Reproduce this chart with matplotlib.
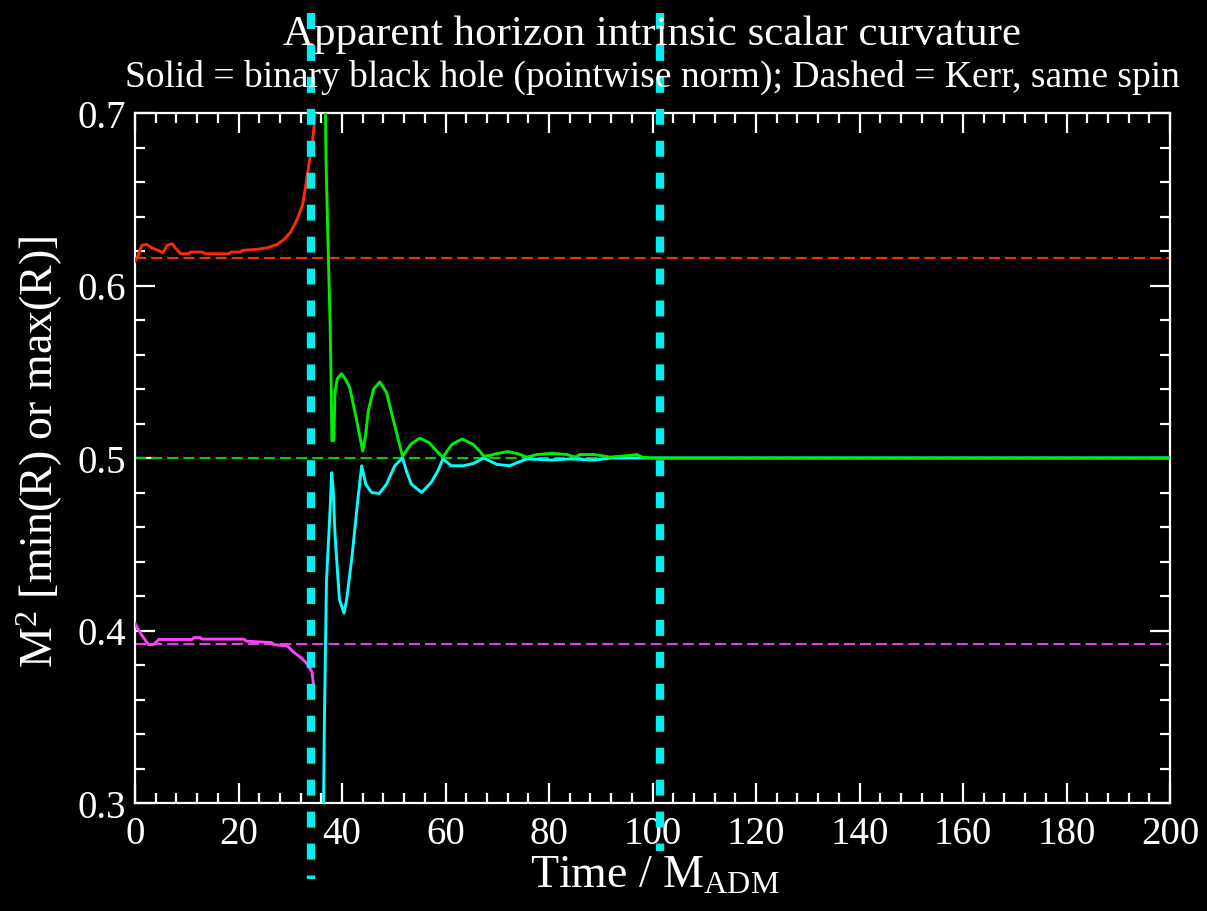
#!/usr/bin/env python3
"""Apparent horizon intrinsic scalar curvature: binary black hole vs Kerr."""

import matplotlib
matplotlib.use("Agg")
import matplotlib.pyplot as plt
from matplotlib.ticker import MultipleLocator

# individual horizon 1 (max R), red
red_t = [0.0, 0.6, 1.3, 2.3, 3.2, 4.5, 5.4, 6.2, 7.2, 7.8, 8.8, 10.4, 10.7,
         13.0, 13.6, 18.2, 18.5, 20.4, 20.7, 23.6, 25.6, 27.5, 28.8, 30.1,
         31.4, 32.4, 33.0, 33.7, 34.3, 34.6, 34.8]
red_v = [0.6141, 0.6174, 0.6233, 0.6238, 0.6219, 0.6203, 0.6190, 0.6233,
         0.6242, 0.6217, 0.6184, 0.6184, 0.6194, 0.6194, 0.6184, 0.6184,
         0.6194, 0.6194, 0.6203, 0.6210, 0.6219, 0.6238, 0.6267, 0.6310,
         0.6388, 0.6469, 0.6581, 0.6717, 0.6833, 0.6920, 0.7008]

# individual horizon (min R), magenta
mag_t = [0.0, 0.35, 1.3, 2.6, 3.6, 4.6, 11.0, 11.4, 12.6, 12.9, 21.0, 21.6,
         26.4, 26.8, 29.4, 30.6, 32.3, 33.2, 34.2, 34.5]
mag_v = [0.4041, 0.4021, 0.3973, 0.3918, 0.3918, 0.3948, 0.3948, 0.3959,
         0.3959, 0.3950, 0.3950, 0.3938, 0.3930, 0.3918, 0.3911, 0.3876,
         0.3837, 0.3808, 0.3759, 0.3685]

# common horizon max R, green
green_t = [36.6, 36.9, 37.3, 37.7, 37.9, 38.05, 38.4, 38.65, 39.1, 39.9, 40.6,
           41.5, 42.8, 44.0, 44.5, 45.1, 46.1, 47.3, 48.6, 49.9, 51.7, 52.4,
           53.3, 55.0, 56.8, 58.3, 59.5, 60.3, 61.3, 63.2, 65.3, 66.6, 67.4,
           68.5, 69.9, 72.0, 74.0, 75.7, 77.7, 80.6, 83.5, 85.0, 86.0, 88.7,
           91.8, 95.6, 97.0, 98.0, 100.0, 200.0]
green_v = [0.7600, 0.6743, 0.6236, 0.5782, 0.5435, 0.5101, 0.5101, 0.5382,
           0.5460, 0.5489, 0.5460, 0.5408, 0.5222, 0.5040, 0.5120, 0.5275,
           0.5400, 0.5440, 0.5380, 0.5222, 0.5010, 0.5040, 0.5080, 0.5115,
           0.5090, 0.5040, 0.5005, 0.5040, 0.5080, 0.5110, 0.5080, 0.5040,
           0.5010, 0.5015, 0.5025, 0.5037, 0.5025, 0.5005, 0.5020, 0.5027,
           0.5020, 0.5005, 0.5020, 0.5020, 0.5005, 0.5015, 0.5020, 0.5005,
           0.5000, 0.5000]

# common horizon min R, cyan
cyan_t = [36.4, 36.6, 37.0, 37.5, 37.8, 38.0, 38.3, 38.65, 39.5, 40.4, 40.9,
          41.9, 43.0, 43.8, 44.6, 45.7, 47.2, 48.6, 50.2, 51.7, 52.5, 53.4,
          55.4, 57.3, 58.6, 59.5, 61.1, 63.4, 65.4, 67.4, 69.9, 72.4, 75.7,
          80.6, 84.0, 88.7, 92.0, 200.0]
cyan_v = [0.2900, 0.3473, 0.4287, 0.4581, 0.4768, 0.4915, 0.4820, 0.4554,
          0.4180, 0.4100, 0.4180, 0.4420, 0.4741, 0.4955, 0.4848, 0.4800,
          0.4794, 0.4848, 0.4955, 0.5000, 0.4920, 0.4848, 0.4800, 0.4861,
          0.4930, 0.4995, 0.4955, 0.4955, 0.4968, 0.5000, 0.4963, 0.4955,
          0.4995, 0.4988, 0.4995, 0.4988, 0.5000, 0.5000]

# Kerr values with the same spin (dashed)
kerr_levels = [0.6158, 0.5000, 0.3920]
kerr_colors = ["#e83a00", "#00d000", "#e040e0"]

# times marked by the thick dashed cyan lines
marker_times = [33.95, 101.5]

plt.rcParams["font.family"] = ["Liberation Serif", "DejaVu Serif"]
plt.rcParams["mathtext.fontset"] = "custom"
plt.rcParams["mathtext.rm"] = "Liberation Serif"
plt.rcParams["mathtext.it"] = "Liberation Serif:italic"
plt.rcParams["lines.scale_dashes"] = False

fig = plt.figure(figsize=(12.07, 9.12), dpi=100, facecolor="black")
ax = fig.add_axes([135 / 1207, 1 - 804 / 912, 1035 / 1207, 690 / 912])
ax.set_facecolor("black")

for level, color in zip(kerr_levels, kerr_colors):
    ax.axhline(level, color=color, lw=1.5, ls=(0, (8, 3.6)), zorder=2)

ax.plot(red_t, red_v, color="#ff2a00", lw=2.1, zorder=3)
ax.plot(mag_t, mag_v, color="#ff40ff", lw=2.1, zorder=3)
ax.plot(cyan_t, cyan_v, color="#00ffff", lw=2.1, zorder=3)
ax.plot(green_t, green_v, color="#00ee00", lw=2.1, zorder=4)

for t, bottom in zip(marker_times, [0.256, 0.272]):
    ax.plot([t, t], [0.758, bottom], color="#00f0f0", lw=6,
            ls=(0, (11.5, 11.5)), solid_capstyle="butt",
            dash_capstyle="butt", clip_on=False, zorder=6)

ax.set_xlim(0, 200)
ax.set_ylim(0.3, 0.7)
ax.set_xticks(range(0, 201, 20))
ax.xaxis.set_minor_locator(MultipleLocator(4))
ax.yaxis.set_major_locator(MultipleLocator(0.1))
ax.yaxis.set_minor_locator(MultipleLocator(0.02))
ax.tick_params(which="both", direction="in", top=True, right=True,
               colors="white", width=1.6, labelsize=28)
ax.tick_params(which="major", length=14.4)
ax.tick_params(which="minor", length=7.2)
ax.tick_params(axis="x", pad=9)
ax.tick_params(axis="y", pad=6.5)
for spine in ax.spines.values():
    spine.set_color("white")
    spine.set_linewidth(1.6)

fig.text(652 / 1207, 1 - 45 / 912, "Apparent horizon intrinsic scalar curvature",
         color="white", fontsize=31, ha="center", va="baseline")
fig.text(652 / 1207, 1 - 87 / 912,
         "Solid = binary black hole (pointwise norm); Dashed = Kerr, same spin",
         color="white", fontsize=27, ha="center", va="baseline")
fig.text(655 / 1207, 1 - 888 / 912, r"Time / $\mathrm{M}_{\mathrm{ADM}}$",
         color="white", fontsize=33, ha="center", va="baseline")
fig.text(53 / 1207, 1 - 452 / 912, r"$\mathrm{M}^2$ [min(R) or max(R)]",
         color="white", fontsize=33, rotation=90, rotation_mode="anchor",
         ha="center", va="baseline")

fig.savefig("out.png", dpi=100, facecolor="black")
